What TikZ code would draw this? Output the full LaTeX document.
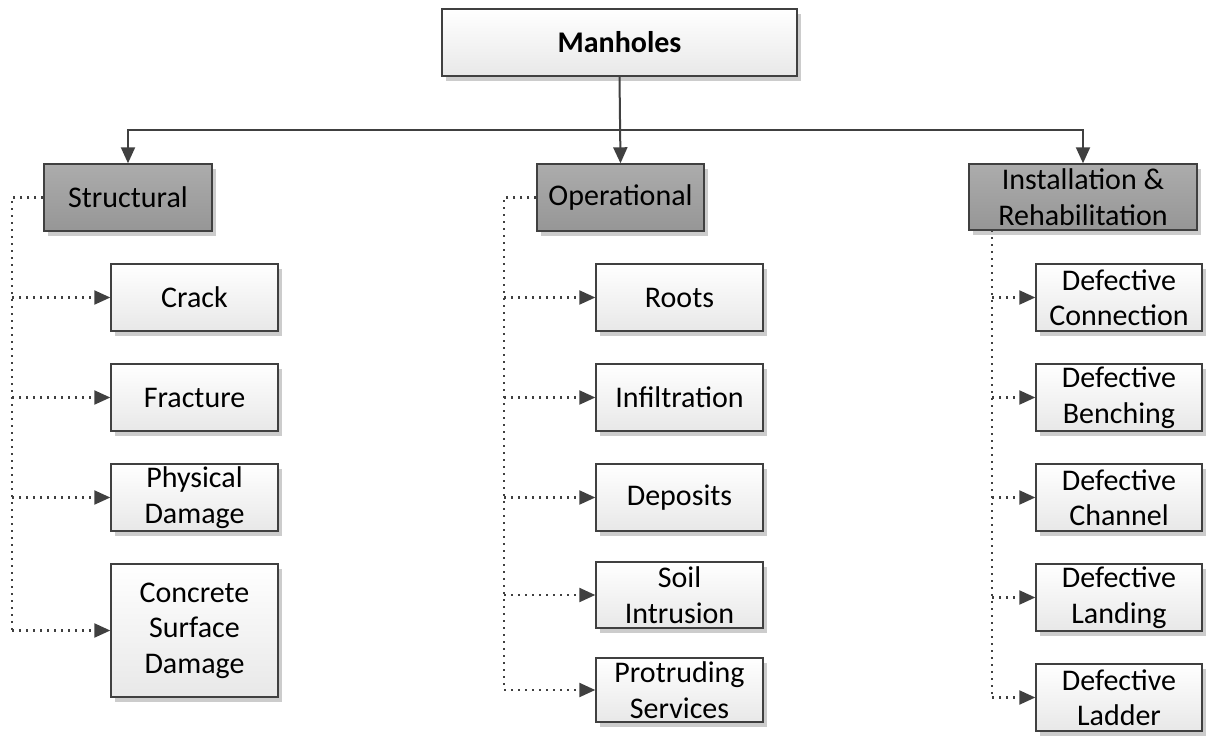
\documentclass[tikz,border=0pt]{standalone}
\usepackage{fontspec}
\setmainfont{Carlito}
\usetikzlibrary{arrows.meta,shadows}

\definecolor{edgegray}{RGB}{64,64,64}
\definecolor{shadowgray}{RGB}{204,204,204}
\definecolor{cattop}{RGB}{172,172,172}
\definecolor{catbot}{RGB}{150,150,150}
\definecolor{leafbot}{RGB}{232,232,232}

\begin{document}
\begin{tikzpicture}[x=1pt,y=-1pt,
  box/.style={draw=edgegray, line width=1.4pt, inner sep=0pt, align=center,
    font=\fontsize{30}{35.5}\selectfont,
    drop shadow={shadow xshift=4pt, shadow yshift=-5pt, fill=shadowgray, opacity=1}},
  leaf/.style={box, top color=white, bottom color=leafbot},
  cat/.style={box, top color=cattop, bottom color=catbot},
  tree/.style={draw=edgegray, line width=2pt},
  treearrow/.style={tree, -{Triangle[length=16pt,width=14pt]}},
  dotline/.style={draw=edgegray, line width=2.2pt, dash pattern=on 2.2pt off 4.8pt},
  dotarrow/.style={dotline, -{Triangle[length=16pt,width=14pt]}}
]
\useasboundingbox (0,0) rectangle (1213,736);

% root
\node[leaf, minimum width=355pt, minimum height=67pt, font=\fontsize{30}{35.5}\selectfont\bfseries]
  (man) at (619.5,42.5) {Manholes};

% categories
\node[cat, minimum width=168pt, minimum height=67pt] (str)  at (128,197.5)   {Structural};
\node[cat, minimum width=167pt, minimum height=67pt] (op)   at (620.5,197.5) {Operational};
\node[cat, minimum width=228pt, minimum height=66pt] (inst) at (1083,197)    {Installation \&\\Rehabilitation};

% structural defects
\node[leaf, minimum width=167pt, minimum height=67pt]  (crack) at (194.5,297.5) {Crack};
\node[leaf, minimum width=167pt, minimum height=67pt]  (fract) at (194.5,397.5) {Fracture};
\node[leaf, minimum width=167pt, minimum height=67pt]  (phys)  at (194.5,497.5) {Physical\\Damage};
\node[leaf, minimum width=167pt, minimum height=133pt] (conc)  at (194.5,630.5) {Concrete\\Surface\\Damage};

% operational defects
\node[leaf, minimum width=167pt, minimum height=67pt] (roots) at (679.5,297.5) {Roots};
\node[leaf, minimum width=167pt, minimum height=67pt] (infil) at (679.5,397.5) {Infiltration};
\node[leaf, minimum width=167pt, minimum height=67pt] (depos) at (679.5,497.5) {Deposits};
\node[leaf, minimum width=167pt, minimum height=66pt] (soil)  at (679.5,595)   {Soil\\Intrusion};
\node[leaf, minimum width=167pt, minimum height=64pt] (protr) at (679.5,690)   {Protruding\\Services};

% installation & rehabilitation defects
\node[leaf, minimum width=166pt, minimum height=67pt] (dconn)  at (1119,297.5) {Defective\\Connection};
\node[leaf, minimum width=166pt, minimum height=67pt] (dbench) at (1119,397.5) {Defective\\Benching};
\node[leaf, minimum width=166pt, minimum height=67pt] (dchan)  at (1119,497.5) {Defective\\Channel};
\node[leaf, minimum width=166pt, minimum height=67pt] (dland)  at (1119,597.5) {Defective\\Landing};
\node[leaf, minimum width=166pt, minimum height=67pt] (dladd)  at (1119,697.5) {Defective\\Ladder};

% root to categories
\coordinate (bus) at (620,130);
\draw[treearrow] (man.south) -- (op.north);
\draw[treearrow] (bus) -| (str.north);
\draw[treearrow] (bus) -| (inst.north);

% structural branch
\coordinate (sspine) at (12,197.5);
\draw[dotline] (str.west) -- (sspine) -- (sspine |- conc.west);
\foreach \n in {crack,fract,phys,conc}
  \draw[dotarrow] (sspine |- \n.west) -- (\n.west);

% operational branch
\coordinate (ospine) at (504,197.5);
\draw[dotline] (op.west) -- (ospine) -- (ospine |- protr.west);
\foreach \n in {roots,infil,depos,soil,protr}
  \draw[dotarrow] (ospine |- \n.west) -- (\n.west);

% installation & rehabilitation branch
\coordinate (ispine) at (992,230);
\draw[dotline] (ispine) -- (ispine |- dladd.west);
\foreach \n in {dconn,dbench,dchan,dland,dladd}
  \draw[dotarrow] (ispine |- \n.west) -- (\n.west);
\end{tikzpicture}
\end{document}
